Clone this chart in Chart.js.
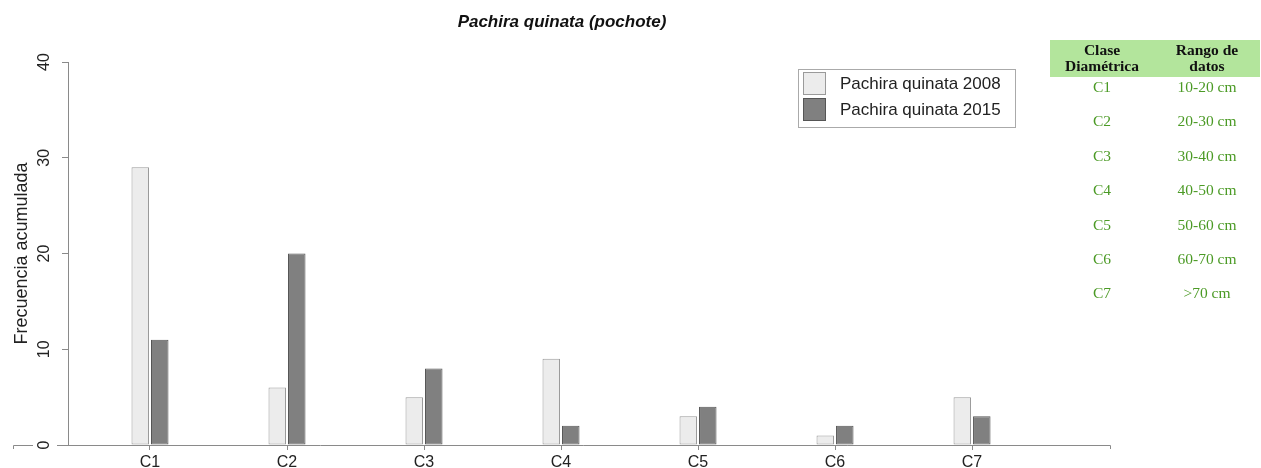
<!DOCTYPE html>
<html>
<head>
<meta charset="utf-8">
<script src="https://cdn.jsdelivr.net/npm/chart.js@4/dist/chart.umd.min.js"></script>
<style>
  body { margin: 0; background: #fff; }
  #wrap { position: relative; width: 1261px; height: 468px; }
  #tabla {
    position: absolute; left: 1050px; top: 40px; width: 210px;
    font-family: "Liberation Serif", "Times New Roman", serif; font-size: 15.5px;
  }
  #tabla .head { background: #b3e59c; height: 37px; display: flex; font-weight: bold; color: #111; line-height: 16px; padding-top: 2px; box-sizing: border-box; }
  #tabla .row { display: flex; height: 34.4px; line-height: 20px; color: #4b9a25; }
  #tabla .c1 { width: 104px; text-align: center; }
  #tabla .c2 { width: 106px; text-align: center; }
</style>
</head>
<body>
<div id="wrap">
  <canvas id="chart" width="1261" height="468"></canvas>
  <div id="tabla"></div>
</div>
<script>
const categories = ["C1", "C2", "C3", "C4", "C5", "C6", "C7"];
const values2008 = [29, 6, 5, 9, 3, 1, 5];
const values2015 = [11, 20, 8, 2, 4, 2, 3];
const yTicks = [0, 10, 20, 30, 40];
const seriesNames = ["Pachira quinata 2008", "Pachira quinata 2015"];
const rangos = ["10-20 cm", "20-30 cm", "30-40 cm", "40-50 cm", "50-60 cm", "60-70 cm", ">70 cm"];

const SANS = '"Liberation Sans", Arial, sans-serif';
const AXIS_GRAY = "#8a8a8a";

// tabla de clases diametricas
const tabla = document.getElementById("tabla");
let html = '<div class="head"><div class="c1">Clase<br>Diamétrica</div><div class="c2">Rango de<br>datos</div></div>';
categories.forEach((c, i) => {
  html += '<div class="row"><div class="c1">' + c + '</div><div class="c2">' + rangos[i].replace(">", "&gt;") + "</div></div>";
});
tabla.innerHTML = html;

const extras = {
  id: "extras",
  afterDraw(chart) {
    const ctx = chart.ctx;
    const y = chart.scales.y;
    const base = y.getPixelForValue(0);
    ctx.save();
    // titulo
    ctx.fillStyle = "#111";
    ctx.font = "italic bold 17px " + SANS;
    ctx.textAlign = "center";
    ctx.textBaseline = "middle";
    ctx.fillText("Pachira quinata (pochote)", 562, 22);

    // linea base del eje x
    ctx.strokeStyle = AXIS_GRAY;
    ctx.lineWidth = 1;
    ctx.beginPath();
    ctx.moveTo(13.5, base + 4); ctx.lineTo(13.5, base + 0.5); ctx.lineTo(33, base + 0.5);
    ctx.moveTo(57, base + 0.5); ctx.lineTo(chart.chartArea.right + 0.5, base + 0.5); ctx.lineTo(chart.chartArea.right + 0.5, base + 4);
    ctx.stroke();

    // etiquetas del eje y, giradas
    ctx.fillStyle = "#222";
    ctx.font = "16px " + SANS;
    yTicks.forEach(v => {
      ctx.save();
      ctx.translate(45, y.getPixelForValue(v));
      ctx.rotate(-Math.PI / 2);
      ctx.fillText(String(v), 0, 0);
      ctx.restore();
    });

    // leyenda
    const lx = 798, ly = 69, lw = 217, lh = 58;
    ctx.strokeStyle = "#aaa";
    ctx.strokeRect(lx + 0.5, ly + 0.5, lw, lh);
    chart.data.datasets.forEach((ds, i) => {
      const sy = ly + 3 + i * 26;
      ctx.fillStyle = ds.backgroundColor;
      ctx.fillRect(803, sy, 23, 23);
      ctx.strokeStyle = ds.borderColor;
      ctx.strokeRect(803.5, sy + 0.5, 22, 22);
      ctx.fillStyle = "#222";
      ctx.font = "17px " + SANS;
      ctx.textAlign = "left";
      ctx.fillText(ds.label, 840, sy + 12);
    });
    ctx.restore();
  },
};

const ctx = document.getElementById("chart").getContext("2d");
new Chart(ctx, {
  type: "bar",
  plugins: [extras],
  data: {
    datasets: [
      {
        label: seriesNames[0],
        data: values2008.map((v, i) => ({ x: i + 1, y: v })),
        backgroundColor: "#ececec",
        borderColor: "#9a9a9a",
        borderWidth: 1,
        borderSkipped: false,
        categoryPercentage: 0.2847,
        barPercentage: 0.897,
      },
      {
        label: seriesNames[1],
        data: values2015.map((v, i) => ({ x: i + 1, y: v })),
        backgroundColor: "#808080",
        borderColor: "#555555",
        borderWidth: 1,
        borderSkipped: false,
        categoryPercentage: 0.2847,
        barPercentage: 0.897,
      },
    ],
  },
  options: {
    responsive: false,
    animation: false,
    layout: {
      padding: { top: 62, right: 151, left: 0, bottom: 0 },
    },
    plugins: {
      legend: { display: false },
      title: { display: false },
      tooltip: { enabled: false },
    },
    scales: {
      x: {
        type: "linear",
        position: "bottom",
        offset: false,
        min: 0.4015,
        max: 8.007,
        afterBuildTicks: (scale) => {
          scale.ticks = categories.map((c, i) => ({ value: i + 1 }));
        },
        afterFit: (scale) => {
          scale.height = 23;
        },
        border: { display: false },
        grid: {
          offset: false,
          drawOnChartArea: false,
          drawTicks: true,
          tickLength: 5,
          color: AXIS_GRAY,
        },
        ticks: {
          autoSkip: false,
          maxRotation: 0,
          padding: 3,
          color: "#222",
          font: { size: 16, family: SANS },
          callback: (v) => categories[v - 1],
        },
      },
      y: {
        min: 0,
        max: 40,
        afterBuildTicks: (scale) => {
          scale.ticks = yTicks.map(v => ({ value: v }));
        },
        afterFit: (scale) => {
          scale.width = 68;
        },
        border: { display: true, color: AXIS_GRAY, width: 1 },
        grid: {
          drawOnChartArea: false,
          drawTicks: true,
          tickLength: 6,
          color: AXIS_GRAY,
        },
        ticks: { display: false },
        title: {
          display: true,
          text: "Frecuencia acumulada",
          color: "#222",
          padding: { top: 11, bottom: 0 },
          font: { size: 18, family: SANS },
        },
      },
    },
  },
});
</script>
</body>
</html>
